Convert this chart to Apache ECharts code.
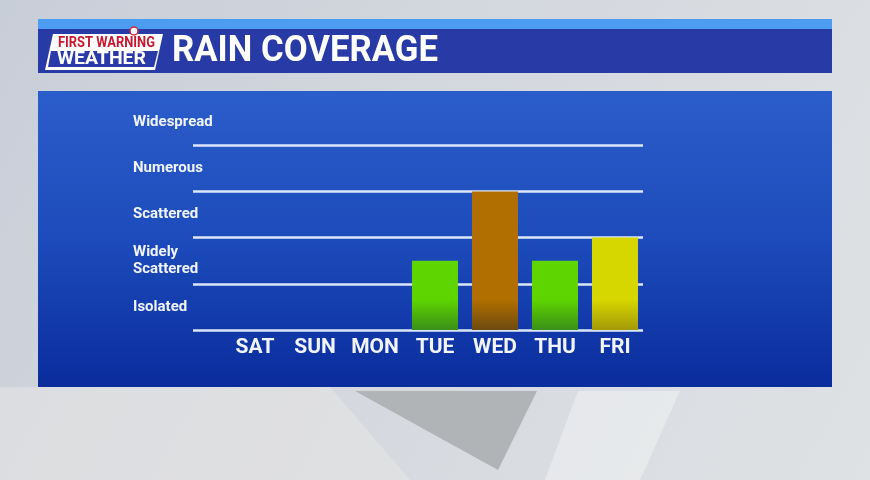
<!DOCTYPE html>
<html>
<head>
<meta charset="utf-8">
<script src="https://cdn.jsdelivr.net/npm/echarts@6/dist/echarts.min.js"></script>
<style>html,body{margin:0;padding:0;}#c{width:870px;height:480px;}</style>
</head>
<body>
<div id="c"></div>
<script>
// ---- data ----
var days = ['SAT', 'SUN', 'MON', 'TUE', 'WED', 'THU', 'FRI'];
var coverage = [null, null, null, 1.5, 3, 1.5, 2];
var levelLabels = ['Isolated', 'Widely\nScattered', 'Scattered', 'Numerous', 'Widespread'];
var levelTicks = [0.5, 1.5, 2.5, 3.5, 4.5];

// ---- styles ----
var barTop = ['#5fd400', '#5fd400', '#5fd400', '#5ed400', '#b06f00', '#5ed400', '#d6d600'];
var barBottom = ['#3a8f18', '#3a8f18', '#3a8f18', '#3a8f18', '#6e4a10', '#3a8f18', '#a39a08'];
var font = 'Roboto, "Noto Sans", sans-serif';

var chart = echarts.init(document.getElementById('c'));

var barData = coverage.map(function (v, i) {
  return {
    value: v,
    itemStyle: {
      color: new echarts.graphic.LinearGradient(0, 300, 0, 330, [
        { offset: 0, color: barTop[i] },
        { offset: 1, color: barBottom[i] }
      ], true)
    }
  };
});

chart.setOption({
  animation: false,
  backgroundColor: new echarts.graphic.LinearGradient(0, 0, 1, 1, [
    { offset: 0, color: '#c8ced8' },
    { offset: 0.5, color: '#d5d9df' },
    { offset: 1, color: '#dfe2e4' }
  ]),
  graphic: [
    // background shapes
    { type: 'polygon', z: -10, shape: { points: [[0, 387], [330, 387], [410, 480], [0, 480]] }, style: { fill: 'rgba(232,230,228,0.55)' } },
    { type: 'polygon', z: -10, shape: { points: [[355, 391], [537, 391], [498, 470]] }, style: { fill: '#b0b4b7' } },
    { type: 'polygon', z: -10, shape: { points: [[578, 391], [680, 391], [640, 480], [545, 480]] }, style: { fill: 'rgba(238,240,242,0.6)' } },
    // header
    { type: 'rect', z: 0, shape: { x: 38, y: 19, width: 794, height: 11 }, style: { fill: '#4c9cf2' } },
    { type: 'rect', z: 0, shape: { x: 38, y: 29, width: 794, height: 44 }, style: { fill: '#283aa5' } },
    // logo
    { type: 'polygon', z: 1, shape: { points: [[53, 34], [163, 34], [155, 70], [45, 70]] }, style: { fill: '#ffffff' } },
    { type: 'polygon', z: 2, shape: { points: [[51, 51], [158, 51], [154, 67], [48, 67]] }, style: { fill: '#2a3aa8' } },
    { type: 'circle', z: 2, shape: { cx: 134, cy: 31, r: 4 }, style: { fill: '#ffffff', stroke: '#d0263a', lineWidth: 1.5 } },
    { type: 'text', z: 3, x: 58, y: 43, style: { text: 'FIRST WARNING', fill: '#c8182f', font: 'bold 15px ' + font, align: 'left', verticalAlign: 'middle' }, scaleX: 0.86 },
    { type: 'text', z: 3, x: 57, y: 59.5, style: { text: 'WEATHER', fill: '#ffffff', font: 'bold 18px ' + font, align: 'left', verticalAlign: 'middle' }, scaleX: 1.08 },
    { type: 'text', z: 3, x: 172, y: 52, style: { text: 'RAIN COVERAGE', fill: '#ffffff', font: 'bold 36px ' + font, align: 'left', verticalAlign: 'middle' }, scaleX: 0.965 },
    // panel
    { type: 'rect', z: -5, shape: { x: 38, y: 91, width: 794, height: 296 }, style: {
      fill: new echarts.graphic.LinearGradient(0, 0, 0, 1, [
        { offset: 0, color: '#2b5dca' },
        { offset: 0.5, color: '#1d4bbb' },
        { offset: 1, color: '#0a2c9d' }
      ]) } }
  ],
  grid: [
    { left: 193, right: 227, top: 99, bottom: 150 },
    { left: 225, right: 225, top: 99, bottom: 150 }
  ],
  xAxis: [
    { gridIndex: 0, type: 'value', show: false, min: 0, max: 1 },
    {
      gridIndex: 1, type: 'category', data: days,
      axisLine: { show: false }, axisTick: { show: false },
      axisLabel: { interval: 0, color: '#f2f5ff', fontFamily: font, fontWeight: 'bold', fontSize: 21, margin: 7 }
    }
  ],
  yAxis: [
    {
      gridIndex: 0, type: 'value', position: 'left', min: 0, max: 5, interval: 1,
      axisLine: { show: false }, axisTick: { show: false }, axisLabel: { show: false },
      splitLine: { show: true, showMaxLine: false, lineStyle: { color: '#dce7fa', width: 2.5 } }
    },
    {
      gridIndex: 0, type: 'value', position: 'left', min: 0, max: 5, interval: 0.5,
      axisLine: { show: false }, axisTick: { show: false }, splitLine: { show: false },
      axisLabel: {
        color: '#f2f5ff', fontFamily: font, fontWeight: 'bold', fontSize: 15, lineHeight: 17,
        align: 'left', margin: 60, padding: [4, 0, 0, 0],
        formatter: function (v) {
          var i = levelTicks.indexOf(v);
          return i >= 0 ? levelLabels[i] : '';
        }
      }
    },
    { gridIndex: 1, type: 'value', position: 'left', min: 0, max: 5, show: false, splitLine: { show: false } }
  ],
  series: [
    {
      type: 'bar', xAxisIndex: 1, yAxisIndex: 2, data: barData, barWidth: 46, z: 5
    }
  ]
});
</script>
</body>
</html>
